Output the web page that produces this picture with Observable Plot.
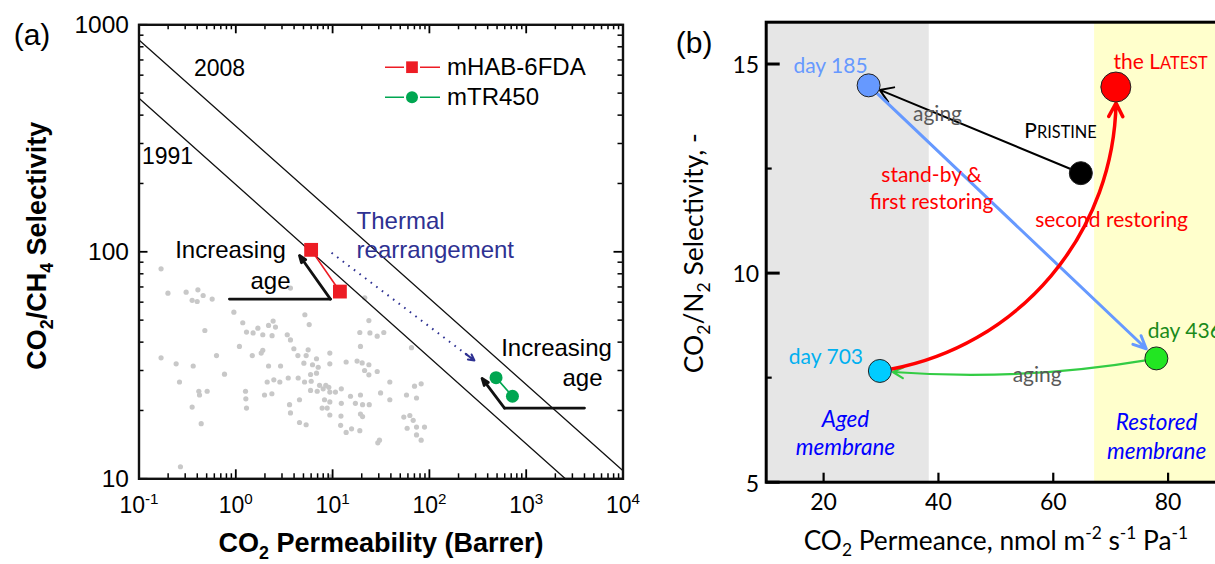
<!DOCTYPE html>
<html><head><meta charset="utf-8">
<script src="https://cdn.jsdelivr.net/npm/d3@7"></script>
<script src="https://cdn.jsdelivr.net/npm/@observablehq/plot@0.6"></script>
<style>
html,body{margin:0;padding:0;background:#fff;overflow:hidden;}
#wrap{position:relative;width:1215px;height:564px;overflow:hidden;background:#fff;}
#pa{position:absolute;left:0;top:0;width:640px;height:564px;}
#pb{position:absolute;left:640px;top:0;width:600px;height:564px;}
#wrap svg{max-width:none !important;}
</style></head><body><div id="wrap"><div id="pa"></div><div id="pb"></div></div>
<script>
// ================= DATA: panel (a) =================
// literature polymers: [CO2 permeability (Barrer), CO2/CH4 selectivity]
const literaturePoints = [[0.169,84.1],[0.199,65.7],[0.307,66.4],[0.406,68.0],[0.460,64.2],[0.354,61.1],[0.399,60.4],[0.570,61.9],[3.67,69.2],[0.955,54.2],[0.479,45.0],[1.18,48.7],[1.29,44.3],[1.51,43.9],[1.69,46.1],[1.90,43.1],[2.18,47.4],[2.43,49.5],[2.57,46.6],[2.37,42.7],[3.40,43.1],[3.67,40.9],[5.17,52.8],[5.73,47.8],[1.09,38.3],[0.632,34.9],[0.169,34.1],[0.242,32.1],[0.363,31.4],[0.764,28.9],[0.262,26.7],[0.415,24.3],[0.422,23.4],[0.506,24.3],[0.354,20.7],[0.439,17.5],[0.268,11.3],[1.48,34.9],[1.83,35.8],[1.90,36.8],[2.18,31.4],[2.90,31.4],[3.98,37.4],[4.38,34.9],[5.33,34.9],[5.59,37.0],[5.05,32.3],[6.82,33.8],[6.20,31.8],[7.10,31.0],[9.36,35.8],[9.36,32.1],[2.11,26.7],[2.47,27.3],[2.85,26.7],[3.48,27.8],[4.41,27.8],[5.13,26.7],[5.92,28.8],[6.82,29.2],[6.01,26.9],[1.98,23.4],[2.36,23.7],[1.26,24.3],[1.27,22.5],[1.29,20.5],[3.59,21.2],[3.67,19.5],[4.55,22.3],[5.92,24.5],[7.33,25.8],[7.99,24.9],[8.51,25.8],[9.14,25.3],[6.93,24.3],[9.36,24.1],[10.7,24.1],[12.3,24.9],[8.25,22.3],[9.36,21.8],[7.80,20.5],[8.79,20.5],[9.36,19.1],[12.3,21.5],[12.2,18.9],[15.3,23.1],[17.2,21.5],[19.4,23.4],[20.4,21.2],[23.9,21.2],[19.4,19.3],[20.4,18.8],[4.55,17.7],[5.33,17.3],[12.1,17.2],[13.8,16.0],[15.7,16.6],[19.1,16.3],[30.5,14.8],[29.3,14.4],[13.8,32.7],[17.9,33.0],[20.2,32.4],[23.7,31.8],[21.4,30.0],[23.7,28.7],[28.9,29.7],[19.4,38.3],[19.1,44.1],[24.3,43.9],[23.7,49.8],[28.9,42.5],[33.8,44.1],[21.5,62.7],[39.0,26.7],[31.3,23.9],[39.0,22.3],[58.0,23.4],[70.2,25.6],[82.2,26.2],[73.6,22.7],[54.4,18.7],[62.8,19.0],[68.0,18.1],[58.9,16.7],[73.6,16.9],[89.0,16.9],[73.6,15.6],[82.2,14.8],[65.3,37.8],[9.51,10.2]];
const mhabPermeability = [6.0, 11.9];
const mhabSelectivity = [102, 66.8];
const mtrPermeability = [488, 721];
const mtrSelectivity = [27.9, 23.1];
const bound2008 = [[0.1, 857], [10000, 10.86]];
const bound1991 = [[0.1, 475], [2538, 10]];
const xMajorA = [0.1, 1, 10, 100, 1000, 10000];
const xTickLabelsA = ["10^{-1}", "10^{0}", "10^{1}", "10^{2}", "10^{3}", "10^{4}"];
const yMajorA = [10, 100, 1000];
const yTickLabelsA = ["10", "100", "1000"];
const legendA = ["mHAB-6FDA", "mTR450"];
// annotation anchors (data units)
const boundLabels = [{text: "2008", x: 0.679, y: 642}, {text: "1991", x: 0.197, y: 263}];
const ageLabels = [{text: "Increasing", x: 0.882, y: 101.3}, {text: "age", x: 2.28, y: 74.0},
                   {text: "Increasing", x: 2056, y: 37.5}, {text: "age", x: 3819, y: 27.7}];
const thermalLabels = [{text: "Thermal", x: 17.7, y: 136}, {text: "rearrangement", x: 17.7, y: 101.3}];
const ageArrows = [{xs: 0.859, x1: 9.5, y1: 61.9, x2: 4.55, y2: 96.3},
                   {xs: 4000, x1: 597, y1: 20.5, x2: 350, y2: 27.7}];
const thermalArrow = [{x1: 9.75, y1: 99, x2: 292, y2: 33.2}];

// ================= DATA: panel (b) =================
const stateNames = ["day 185", "Pristine", "the Latest", "day 436", "day 703"];
const statePermeance = [27.84, 64.8, 70.9, 77.96, 29.8];
const stateSelectivity = [14.49, 12.39, 14.45, 7.96, 7.66];
const transitions = [
  {from: "Pristine", to: "day 185", kind: "aging1"},
  {from: "day 185", to: "day 436", kind: "restore1"},
  {from: "day 436", to: "day 703", kind: "aging2"},
  {from: "day 703", to: "the Latest", kind: "restore2"}
];
const regionsB = [{name: "Aged", x1: 10, x2: 38.4}, {name: "Restored", x1: 67.2, x2: 90}];
const xTicksB = [20, 40, 60, 80];
const yTicksB = [5, 10, 15];
const yMinorB = [7.5, 12.5];
const stateLabels = [
  {text: "day 185", x: 21.2, y: 14.95, c: "#6699ff"},
  {text: "day 703", x: 20.4, y: 7.98, c: "#00b0f0"},
  {text: "the L~{ATEST}", x: 78.7, y: 15.04, c: "#ff0000"},
  {text: "P~{RISTINE}", x: 61.27, y: 13.39, c: "#000000"}
];
const stateLabelsStart = [{text: "day 436", x: 76.44, y: 8.62, c: "#1a8a1a"}];
const boxedLabels = [
  {text: "aging", x: 39.84, y: 13.85, c: "#595959"},
  {text: "stand-by &\nfirst restoring", x: 38.8, y: 12.07, c: "#ff0000"},
  {text: "second restoring", x: 70.16, y: 11.30, c: "#ff0000"},
  {text: "aging", x: 57.2, y: 7.61, c: "#595959"}
];
const regionLabels = [
  {text: "Aged\nmembrane", x: 23.8, y: 6.21},
  {text: "Restored\nmembrane", x: 78.0, y: 6.12}
];

// ================= helpers =================
const NS = "http://www.w3.org/2000/svg";
function rich(svg) {
  svg.querySelectorAll("text").forEach(t => {
    const s = t.textContent;
    if (!/[_^~]\{/.test(s) || t.querySelector("tspan")) return;
    const fs = parseFloat(getComputedStyle(t).fontSize);
    t.textContent = "";
    let shift = 0;
    const add = (str, kind) => {
      if (!str) return;
      const ts = document.createElementNS(NS, "tspan");
      let target = 0, size = null;
      if (kind === "_") { target = 0.26 * fs; size = 0.66 * fs; }
      else if (kind === "^") { target = -0.4 * fs; size = 0.66 * fs; }
      else if (kind === "~") { size = 0.78 * fs; }
      if (target - shift !== 0) ts.setAttribute("dy", target - shift);
      shift = target;
      if (size) ts.setAttribute("font-size", size);
      ts.textContent = str;
      t.appendChild(ts);
    };
    const re = /([_^~])\{([^}]*)\}/g;
    let last = 0, m;
    while ((m = re.exec(s))) { add(s.slice(last, m.index), null); add(m[2], m[1]); last = re.lastIndex; }
    add(s.slice(last), null);
  });
}
function boxes(svg) {
  svg.querySelectorAll('g[aria-label="boxed"] text').forEach(t => {
    const b = t.getBBox();
    const r = document.createElementNS(NS, "rect");
    r.setAttribute("x", b.x - 2); r.setAttribute("y", b.y + 1);
    r.setAttribute("width", b.width + 4); r.setAttribute("height", b.height - 2);
    r.setAttribute("fill", "#fff");
    const tr = t.getAttribute("transform");
    if (tr) r.setAttribute("transform", tr);
    t.parentNode.insertBefore(r, t);
  });
}

// ================= panel (a) =================
const WA = 640, HA = 564, mA = {l: 138.5, r: 17.5, t: 24.3, b: 85.7};
const fwA = WA - mA.l - mA.r, fhA = HA - mA.t - mA.b;
const minorXA = [], minorYA = [];
for (const k of [-1, 0, 1, 2, 3]) for (const m of [2,3,4,5,6,7,8,9]) minorXA.push(m * 10 ** k);
for (const k of [1, 2]) for (const m of [2,3,4,5,6,7,8,9]) minorYA.push(m * 10 ** k);
const RED = "#ed1c24", GREEN = "#00a651", TBLUE = "#2e3192";
const legendLine = {draw(ctx) { ctx.moveTo(-27, 0); ctx.lineTo(-8, 0); ctx.moveTo(8, 0); ctx.lineTo(28, 0); }};
const mhab = mhabPermeability.map((p, i) => ({p, s: mhabSelectivity[i]}));
const mtr = mtrPermeability.map((p, i) => ({p, s: mtrSelectivity[i]}));

const chartA = Plot.plot({
  width: WA, height: HA,
  marginLeft: mA.l, marginRight: mA.r, marginTop: mA.t, marginBottom: mA.b,
  x: {type: "log", domain: [0.1, 10000], axis: null},
  y: {type: "log", domain: [10, 1000], axis: null},
  style: {fontFamily: "'Liberation Sans', Arial, sans-serif", background: "transparent", overflow: "visible", color: "#000"},
  marks: [
    Plot.dot(literaturePoints, {x: d => d[0], y: d => d[1], r: 2.6, fill: "#c8c8c8"}),
    Plot.line(bound2008, {x: d => d[0], y: d => d[1], stroke: "#111", strokeWidth: 1.3}),
    Plot.line(bound1991, {x: d => d[0], y: d => d[1], stroke: "#111", strokeWidth: 1.3}),
    // ticks (inward, on all four sides)
    Plot.tickX(xMajorA, {x: d => d, insetTop: fhA - 9, strokeWidth: 1.8}),
    Plot.tickX(xMajorA, {x: d => d, insetBottom: fhA - 9, strokeWidth: 1.8}),
    Plot.tickX(minorXA, {x: d => d, insetTop: fhA - 5, strokeWidth: 1.5}),
    Plot.tickX(minorXA, {x: d => d, insetBottom: fhA - 5, strokeWidth: 1.5}),
    Plot.tickY(yMajorA, {y: d => d, insetRight: fwA - 9, strokeWidth: 1.8}),
    Plot.tickY(yMajorA, {y: d => d, insetLeft: fwA - 9, strokeWidth: 1.8}),
    Plot.tickY(minorYA, {y: d => d, insetRight: fwA - 5, strokeWidth: 1.5}),
    Plot.tickY(minorYA, {y: d => d, insetLeft: fwA - 5, strokeWidth: 1.5}),
    Plot.frame({stroke: "#111", strokeWidth: 2.4}),
    // tick labels
    Plot.text(xMajorA, {x: d => d, text: (d, i) => xTickLabelsA[i], frameAnchor: "bottom", dy: 27, lineAnchor: "middle", fontSize: 23}),
    Plot.text(yMajorA, {y: d => d, text: (d, i) => yTickLabelsA[i], frameAnchor: "left", dx: -10, textAnchor: "end", lineAnchor: "middle", fontSize: 24.5}),
    // axis titles
    Plot.text(["CO_{2} Permeability (Barrer)"], {frameAnchor: "bottom", dy: 65, textAnchor: "middle", lineAnchor: "middle", fontSize: 27, fontWeight: "bold"}),
    Plot.text(["CO_{2}/CH_{4} Selectivity"], {frameAnchor: "left", dx: -102, dy: -6, rotate: -90, textAnchor: "middle", lineAnchor: "middle", fontSize: 27, fontWeight: "bold"}),
    Plot.text(["(a)"], {frameAnchor: "top-left", dx: -107, dy: 11, textAnchor: "middle", lineAnchor: "middle", fontSize: 30}),
    // annotation arrows
    Plot.link(ageArrows, {x1: "xs", y1: "y1", x2: "x1", y2: "y1", stroke: "#111", strokeWidth: 2.8, strokeLinecap: "round"}),
    Plot.arrow(ageArrows, {x1: "x1", y1: "y1", x2: "x2", y2: "y2", stroke: "#111", strokeWidth: 2.8, headLength: 4, headAngle: 40, strokeLinecap: "round"}),
    Plot.link(thermalArrow, {x1: "x1", y1: "y1", x2: "x2", y2: "y2", stroke: TBLUE, strokeWidth: 2, strokeDasharray: "1.6,5.4", insetEnd: 4}),
    Plot.arrow(thermalArrow, {x1: "x1", y1: "y1", x2: "x2", y2: "y2", stroke: TBLUE, strokeWidth: 2, headLength: 5, headAngle: 55, insetStart: 168}),
    // membrane data
    Plot.line(mhab, {x: "p", y: "s", stroke: RED, strokeWidth: 1.6}),
    Plot.dot(mhab, {x: "p", y: "s", symbol: "square", r: 7.8, fill: RED}),
    Plot.line(mtr, {x: "p", y: "s", stroke: GREEN, strokeWidth: 1.6}),
    Plot.dot(mtr, {x: "p", y: "s", symbol: "circle", r: 6.5, fill: GREEN}),
    // labels
    Plot.text(boundLabels, {x: "x", y: "y", text: "text", fontSize: 23, lineAnchor: "middle"}),
    Plot.text(ageLabels, {x: "x", y: "y", text: "text", fontSize: 24, lineAnchor: "middle"}),
    Plot.text(thermalLabels, {x: "x", y: "y", text: "text", fontSize: 24, textAnchor: "start", lineAnchor: "middle", fill: TBLUE}),
    // legend
    Plot.dot([legendA[0]], {frameAnchor: "top-left", dx: 273, dy: 42.4, symbol: legendLine, r: 1, fill: "none", stroke: RED, strokeWidth: 1.6}),
    Plot.dot([legendA[0]], {frameAnchor: "top-left", dx: 273, dy: 42.4, symbol: "square", r: 6.6, fill: RED}),
    Plot.text([legendA[0]], {frameAnchor: "top-left", dx: 308, dy: 42.4, textAnchor: "start", lineAnchor: "middle", fontSize: 24}),
    Plot.dot([legendA[1]], {frameAnchor: "top-left", dx: 273, dy: 72.4, symbol: legendLine, r: 1, fill: "none", stroke: GREEN, strokeWidth: 1.6}),
    Plot.dot([legendA[1]], {frameAnchor: "top-left", dx: 273, dy: 72.4, symbol: "circle", r: 6, fill: GREEN}),
    Plot.text([legendA[1]], {frameAnchor: "top-left", dx: 308, dy: 72.4, textAnchor: "start", lineAnchor: "middle", fontSize: 24})
  ]
});
document.getElementById("pa").appendChild(chartA);
rich(chartA);

// ================= panel (b) =================
const WB = 600, HB = 564, mB = {l: 125.7, r: 15, t: 21.7, b: 82.3};
const fwB = WB - mB.l - mB.r, fhB = HB - mB.t - mB.b;
const stateFill = {"day 185": "#6699ff", "Pristine": "#000000", "the Latest": "#ff0000", "day 436": "#22e622", "day 703": "#00ccff"};
const states = stateNames.map((n, i) => ({name: n, x: statePermeance[i], y: stateSelectivity[i]}));
const byName = Object.fromEntries(states.map(s => [s.name, s]));
const arrowsB = transitions.map(t => ({kind: t.kind, x1: byName[t.from].x, y1: byName[t.from].y, x2: byName[t.to].x, y2: byName[t.to].y}));
const arr = k => arrowsB.filter(a => a.kind === k);
const regionFill = {Aged: "#e6e6e6", Restored: "#ffffcc"};
const bigState = states.filter(s => s.name === "the Latest");
const smallStates = states.filter(s => s.name !== "the Latest");

const chartB = Plot.plot({
  width: WB, height: HB,
  marginLeft: mB.l, marginRight: mB.r, marginTop: mB.t, marginBottom: mB.b,
  x: {domain: [10, 90], axis: null},
  y: {domain: [5, 16], axis: null},
  style: {fontFamily: "Lato, 'Open Sans', sans-serif", background: "transparent", overflow: "visible", color: "#000"},
  marks: [
    Plot.rect(regionsB, {x1: "x1", x2: "x2", fill: d => regionFill[d.name]}),
    Plot.tickX(xTicksB, {x: d => d, insetTop: fhB - 9, strokeWidth: 2.2}),
    Plot.tickY(yTicksB, {y: d => d, insetRight: fwB - 14, strokeWidth: 3}),
    Plot.tickY(yMinorB, {y: d => d, insetRight: fwB - 6, strokeWidth: 2.2}),
    Plot.frame({stroke: "#000", strokeWidth: 3}),
    Plot.text(xTicksB, {x: d => d, frameAnchor: "bottom", dy: 20, lineAnchor: "middle", fontSize: 23}),
    Plot.text(yTicksB, {y: d => d, frameAnchor: "left", dx: -7, dy: 2, textAnchor: "end", lineAnchor: "middle", fontSize: 23}),
    Plot.text(["CO_{2} Permeance, nmol m^{-2} s^{-1} Pa^{-1}"], {frameAnchor: "bottom", dy: 59, textAnchor: "middle", lineAnchor: "middle", fontSize: 26.3}),
    Plot.text(["CO_{2}/N_{2} Selectivity, -"], {frameAnchor: "left", dx: -72, dy: 1, rotate: -90, textAnchor: "middle", lineAnchor: "middle", fontSize: 26.5}),
    Plot.text(["(b)"], {frameAnchor: "top-left", dx: -72, dy: 21, textAnchor: "middle", lineAnchor: "middle", fontSize: 30, fontFamily: "'Liberation Sans', Arial, sans-serif"}),
    // transitions
    Plot.arrow(arr("aging1"), {x1: "x1", y1: "y1", x2: "x2", y2: "y2", stroke: "#000", strokeWidth: 2, headLength: 11, headAngle: 65, insetStart: 11, insetEnd: 12}),
    Plot.arrow(arr("restore1"), {x1: "x1", y1: "y1", x2: "x2", y2: "y2", stroke: "#6699ff", strokeWidth: 3, headLength: 7, headAngle: 50, insetStart: 11, insetEnd: 14}),
    Plot.arrow(arr("aging2"), {x1: "x1", y1: "y1", x2: "x2", y2: "y2", bend: 7.5, stroke: "#3c4", strokeWidth: 2.2, headLength: 8, headAngle: 55, insetStart: 11, insetEnd: 13}),
    Plot.arrow(arr("restore2"), {x1: "x1", y1: "y1", x2: "x2", y2: "y2", bend: -42, stroke: "#fff", strokeWidth: 14, headLength: 0, insetStart: 230, insetEnd: 150}),
    Plot.arrow(arr("restore2"), {x1: "x1", y1: "y1", x2: "x2", y2: "y2", bend: -42, stroke: "#ff0000", strokeWidth: 3.5, headLength: 6.5, headAngle: 55, insetStart: 12, insetEnd: 16}),
    // boxed labels
    Plot.text(boxedLabels, {x: "x", y: "y", text: "text", fill: "c", fontSize: 21, lineAnchor: "middle", lineHeight: 1.28, ariaLabel: "boxed"}),
    // states
    Plot.dot(smallStates, {x: "x", y: "y", r: 11.5, fill: d => stateFill[d.name], stroke: "#222", strokeWidth: 1}),
    Plot.dot(bigState, {x: "x", y: "y", r: 15, fill: d => stateFill[d.name], stroke: "#222", strokeWidth: 1}),
    Plot.text(stateLabels, {x: "x", y: "y", text: "text", fill: "c", textAnchor: "middle", fontSize: 21, lineAnchor: "middle"}),
    Plot.text(stateLabelsStart, {x: "x", y: "y", text: "text", fill: "c", textAnchor: "start", fontSize: 21, lineAnchor: "middle"}),
    Plot.text(regionLabels, {x: "x", y: "y", text: "text", fill: "#0000ff", fontStyle: "italic", fontSize: 22.5, lineAnchor: "middle", lineHeight: 1.26})
  ]
});
document.getElementById("pb").appendChild(chartB);
rich(chartB);
boxes(chartB);
</script></body></html>
